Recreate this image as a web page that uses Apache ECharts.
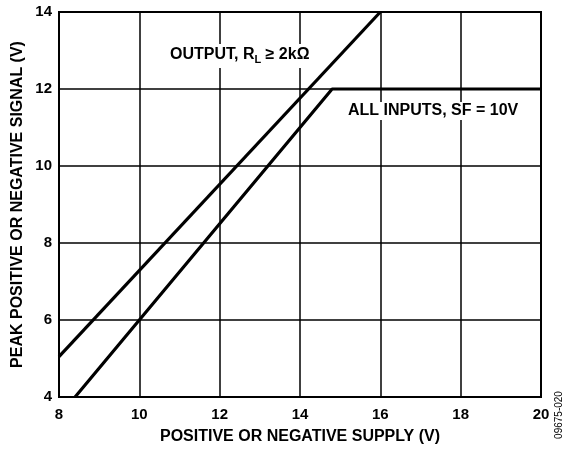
<!DOCTYPE html>
<html><head><meta charset="utf-8">
<script src="https://cdn.jsdelivr.net/npm/echarts@6/dist/echarts.min.js"></script>
<style>html,body{margin:0;padding:0;background:#fff}#c{width:567px;height:451px}</style>
</head><body><div id="c"></div>
<script>
const outputX = [8, 16];
const outputY = [5.05, 14];
const inputsX = [8.4, 10, 14.8, 20];
const inputsY = [4, 6, 12, 12];
const xTicks = [8, 10, 12, 14, 16, 18, 20];
const yTicks = [4, 6, 8, 10, 12, 14];

const font = 'Liberation Sans, Arial, sans-serif';
const chart = echarts.init(document.getElementById('c'));
chart.setOption({
  animation: false,
  backgroundColor: '#fff',
  grid: {left: 59, top: 12, width: 482, height: 385, containLabel: false, show: false},
  xAxis: {
    type: 'value', min: 8, max: 20, interval: 2,
    name: 'POSITIVE OR NEGATIVE SUPPLY (V)', nameLocation: 'middle', nameGap: 32, nameMoveOverlap: false,
    nameTextStyle: {fontFamily: font, fontWeight: 'bold', fontSize: 16, color: '#000'},
    axisLine: {show: true, lineStyle: {color: '#000', width: 2}},
    axisTick: {show: false},
    axisLabel: {fontFamily: font, fontWeight: 'bold', fontSize: 15, color: '#000', margin: 10,
      formatter: v => xTicks.includes(v) ? String(v) : ''},
    splitLine: {show: true, lineStyle: {color: '#000', width: 1.5}}
  },
  yAxis: {
    type: 'value', min: 4, max: 14, interval: 2,
    name: 'PEAK POSITIVE OR NEGATIVE SIGNAL (V)', nameLocation: 'middle', nameGap: 33, nameMoveOverlap: false,
    nameTextStyle: {fontFamily: font, fontWeight: 'bold', fontSize: 16, color: '#000'},
    axisLine: {show: true, lineStyle: {color: '#000', width: 2}},
    axisTick: {show: false},
    axisLabel: {fontFamily: font, fontWeight: 'bold', fontSize: 15, color: '#000', margin: 7,
      formatter: v => yTicks.includes(v) ? String(v) : ''},
    splitLine: {show: true, lineStyle: {color: '#000', width: 1.5}}
  },
  series: [
    {type: 'line', data: outputX.map((x, i) => [x, outputY[i]]), showSymbol: false,
     lineStyle: {color: '#000', width: 3.2}, clip: true},
    {type: 'line', data: inputsX.map((x, i) => [x, inputsY[i]]), showSymbol: false,
     lineStyle: {color: '#000', width: 3.2}, clip: true}
  ],
  graphic: [
    {type: 'rect', shape: {x: 59, y: 12, width: 482, height: 385}, style: {fill: 'none', stroke: '#000', lineWidth: 2}, z: 100},
    {type: 'text', x: 170, y: 56, z: 50, style: {
      text: 'OUTPUT, R{s|L} ≥ 2kΩ', fill: '#000', verticalAlign: 'middle',
      font: 'bold 16px ' + font, backgroundColor: '#fff', padding: [1, 2, 3, 0],
      rich: {s: {fontSize: 11, fontWeight: 'bold', fontFamily: font, padding: [9, 0, 0, 0], fill: '#000'}}
    }},
    {type: 'text', x: 348, y: 111, z: 50, style: {text: 'ALL INPUTS, SF = 10V', fill: '#000', verticalAlign: 'middle',
      font: 'bold 16px ' + font, backgroundColor: '#fff', padding: [1, 2, 1, 0]}},
    {type: 'text', x: 559, y: 415, rotation: Math.PI / 2, style: {text: '09675-020', fill: '#000', font: '10px ' + font, align: 'center', verticalAlign: 'middle'}}
  ]
});
</script></body></html>
